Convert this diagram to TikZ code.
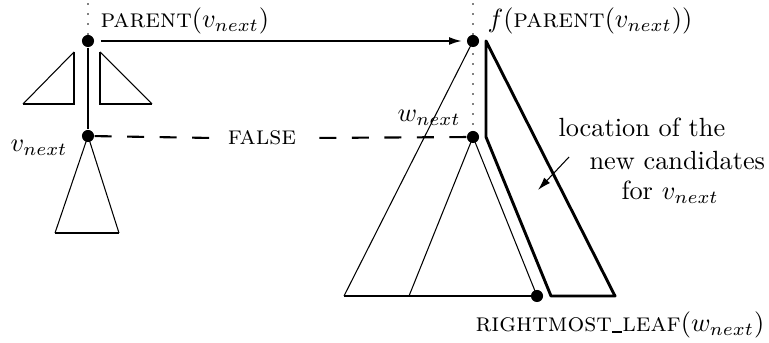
\documentclass[tikz,border=0pt]{standalone}
\usepackage{amsmath,amssymb}
\usepackage{tikz}
\usetikzlibrary{arrows.meta}
\usetikzlibrary{positioning}

\newcommand{\scunder}{\rule[-0.3pt]{4pt}{0.8pt}}

\begin{document}
\begin{tikzpicture}
  [x=0.38pt,y=-0.38pt,
  dot/.style={circle,fill,inner sep=0pt,minimum size=4.6pt},
  lbl/.style={inner sep=0pt,anchor=base west},
  >={Latex[length=5pt,width=3pt]}]

\tikzset{thinline/.style={line width=0.4pt},
         midline/.style={line width=0.8pt},
         thickline/.style={line width=1.1pt},
         dashline/.style={line width=0.8pt,dash pattern=on 6.46pt off 5.89pt},
         dotline/.style={line width=0.6pt,line cap=round,dash pattern=on 0pt off 3.8pt}}

\useasboundingbox (0,0) rectangle (769,343);

% the tree nodes
\node[dot] (par)   at (88,41)   {};
\node[dot] (vnext) at (88,136)  {};
\node[dot] (fpar)  at (473,41)  {};
\node[dot] (wnext) at (473,137) {};
\node[dot] (leaf)  at (537,296) {};
\coordinate (partop)  at (88,4);
\coordinate (fpartop) at (473,4);

% labels
\node[lbl] (parlbl)   at (100,28)  {\textsc{parent}$(v_{next})$};
\node[lbl] (fparlbl)  at (487,28)  {$f($\textsc{parent}$(v_{next}))$};
\node[lbl] (vnextlbl) at (10,152)  {$v_{next}$};
\node[lbl] (wnextlbl) at (397,122) {$w_{next}$};
\node[lbl] (leaflbl)  at (475,332) {\textsc{rightmost}\scunder\textsc{leaf}$(w_{next})$};
\node[inner sep=0pt,minimum width=36.9pt] (false) at (262,138) {\textsc{false}};
\node[lbl] (loc1) at (558,137) {location of the};
\node[lbl] (loc2) at (589,170) {new candidates};
\node[lbl] (loc3) at (621,200) {for $v_{next}$};
\coordinate (loctail) at (569,157);
\coordinate (lochead) at (538,190);

% left part
\draw[dotline] (partop) -- (par);
\draw[thickline] (par) -- (vnext);
\draw[thinline] (23,104) -- (74,52);
\draw[midline] (74,52) -- (74,104) -- (23,104);
\draw[thinline] (152,104) -- (100,52);
\draw[midline] (100,52) -- (100,104) -- (152,104);
\draw[thinline] (55,233) -- (vnext.center) -- (119,233);
\draw[thickline] (55,233) -- (119,233);

% connections
\draw[->,midline,shorten <=2.4pt,shorten >=1.6pt] (par) -- (fpar);
\draw[dashline] (vnext) -- (false.west);
\draw[dashline] (wnext) -- (false.east);

% right part
\draw[dotline] (fpartop) -- (wnext);
\draw[thinline] (fpar.center) -- (344,296);
\draw[thickline] (344,296) -- (leaf.center);
\draw[thinline] (409,296) -- (wnext.center) -- (leaf.center);
\draw[thickline,line join=round] (486,41) -- (486,137) -- (551,296) -- (615,296) -- cycle;
\draw[->,thinline] (loctail) -- (lochead);
\end{tikzpicture}
\end{document}
